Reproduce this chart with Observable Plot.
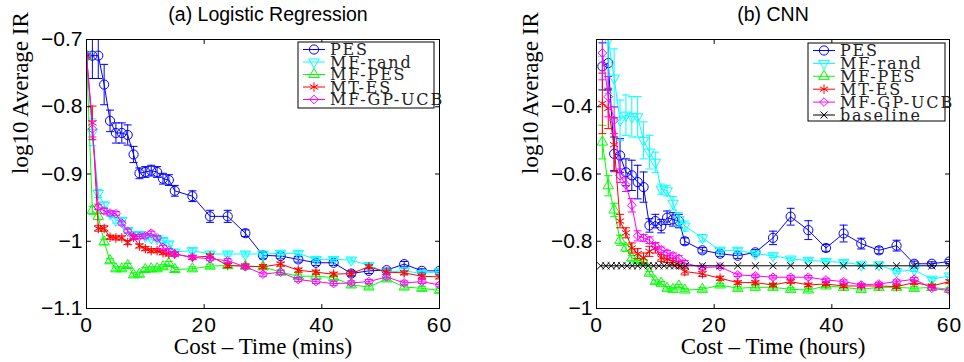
<!DOCTYPE html>
<html><head><meta charset="utf-8">
<script src="https://cdn.jsdelivr.net/npm/d3@7"></script>
<script src="https://cdn.jsdelivr.net/npm/@observablehq/plot@0.6"></script>
<style>
body{margin:0;background:#fff;}
#wrap{display:flex;width:964px;height:362px;}
</style></head><body><div id="wrap"></div>
<script>
// ---------- data: (a) Logistic Regression ----------
const xLR = [0,1,2,3,4,5,6,7,8,9,10,11,12,13,14,15,18,21,24,27,30,33,36,39,42,45,48,51,54,57,60];
const lrPES = [-0.724,-0.724,-0.724,-0.767,-0.821,-0.839,-0.839,-0.842,-0.871,-0.899,-0.897,-0.895,-0.897,-0.907,-0.909,-0.925,-0.933,-0.963,-0.963,-0.988,-1.021,-1.022,-1.027,-1.032,-1.032,-1.048,-1.044,-1.043,-1.034,-1.044,-1.044];
const lrPESErr = [0.034,0.034,0.034,0.03,0.016,0.015,0.015,0.015,0.012,0.008,0.008,0.008,0.008,0.008,0.008,0.008,0.008,0.009,0.009,0.005,0.005,0.004,0.004,0.004,0.004,0.004,0.004,0.003,0.004,0.003,0.003];
const lrRand = [-0.724,-0.838,-0.929,-0.946,-0.959,-0.969,-0.969,-0.984,-0.99,-0.99,-0.993,-0.995,-0.996,-0.999,-1.004,-1.016,-1.014,-1.019,-1.019,-1.019,-1.019,-1.018,-1.018,-1.027,-1.027,-1.028,-1.036,-1.046,-1.044,-1.048,-1.045];
const lrRandErr = [0.003,0.02,0.006,0.004,0.004,0.004,0.003,0.003,0.003,0.003,0.003,0.003,0.003,0.003,0.003,0.003,0.003,0.003,0.003,0.003,0.003,0.003,0.003,0.003,0.003,0.003,0.003,0.003,0.003,0.003,0.003];
const lrMFPES = [-0.724,-0.954,-0.963,-1.001,-1.029,-1.041,-1.041,-1.036,-1.05,-1.049,-1.042,-1.041,-1.041,-1.038,-1.033,-1.042,-1.041,-1.037,-1.036,-1.037,-1.038,-1.046,-1.052,-1.052,-1.054,-1.065,-1.068,-1.056,-1.068,-1.07,-1.073];
const lrMFPESErr = [0.003,0.006,0.005,0.004,0.003,0.003,0.003,0.003,0.003,0.003,0.003,0.003,0.003,0.003,0.003,0.003,0.003,0.003,0.003,0.003,0.003,0.003,0.003,0.003,0.003,0.003,0.003,0.003,0.003,0.003,0.003];
const lrMTES = [-0.724,-0.824,-0.981,-0.981,-0.994,-0.995,-0.995,-1.002,-0.994,-1.007,-1.011,-1.014,-1.014,-1.017,-1.019,-1.019,-1.024,-1.022,-1.036,-1.037,-1.038,-1.034,-1.043,-1.046,-1.049,-1.048,-1.038,-1.046,-1.047,-1.052,-1.053];
const lrMTESErr = [0.003,0.025,0.004,0.004,0.003,0.003,0.003,0.003,0.003,0.003,0.003,0.003,0.003,0.003,0.003,0.003,0.003,0.003,0.003,0.003,0.003,0.003,0.003,0.003,0.003,0.003,0.003,0.003,0.003,0.003,0.003];
const lrUCB = [-0.724,-0.833,-0.949,-0.955,-0.958,-0.959,-0.973,-0.985,-0.993,-0.993,-0.992,-0.988,-0.995,-1.009,-1.014,-1.019,-1.024,-1.026,-1.029,-1.038,-1.049,-1.046,-1.057,-1.06,-1.063,-1.062,-1.06,-1.053,-1.062,-1.06,-1.065];
const lrUCBErr = [0.003,0.012,0.004,0.004,0.003,0.003,0.003,0.003,0.003,0.003,0.003,0.003,0.003,0.003,0.003,0.003,0.003,0.003,0.003,0.003,0.003,0.003,0.003,0.003,0.003,0.003,0.003,0.003,0.003,0.003,0.003];

// ---------- data: (b) CNN ----------
const xCNN = [1,2,3,4,5,6,7,8,9,10,11,12,13,14,15,18,21,24,27,30,33,36,39,42,45,48,51,54,57,60];
const cnnPES = [-0.28,-0.27,-0.54,-0.545,-0.595,-0.604,-0.624,-0.639,-0.753,-0.74,-0.755,-0.73,-0.735,-0.74,-0.8,-0.827,-0.837,-0.843,-0.833,-0.79,-0.727,-0.767,-0.82,-0.777,-0.807,-0.827,-0.813,-0.867,-0.867,-0.86];
const cnnPESErr = [0.07,0.08,0.05,0.05,0.04,0.045,0.05,0.045,0.02,0.02,0.02,0.02,0.02,0.02,0.01,0.008,0.008,0.008,0.008,0.02,0.025,0.028,0.01,0.025,0.016,0.01,0.016,0.008,0.006,0.006];
const cnnRand = [-0.1,-0.2,-0.315,-0.44,-0.425,-0.43,-0.43,-0.5,-0.535,-0.565,-0.645,-0.65,-0.687,-0.735,-0.755,-0.79,-0.827,-0.827,-0.837,-0.843,-0.853,-0.857,-0.86,-0.863,-0.87,-0.87,-0.89,-0.885,-0.913,-0.903];
const cnnRandErr = [0.15,0.16,0.087,0.06,0.06,0.06,0.06,0.055,0.05,0.03,0.015,0.015,0.02,0.02,0.015,0.01,0.006,0.006,0.005,0.005,0.005,0.005,0.005,0.005,0.005,0.005,0.005,0.005,0.005,0.005];
const cnnMFPES = [-0.505,-0.635,-0.707,-0.797,-0.82,-0.85,-0.857,-0.86,-0.895,-0.92,-0.925,-0.94,-0.943,-0.933,-0.945,-0.943,-0.93,-0.94,-0.937,-0.937,-0.943,-0.945,-0.933,-0.937,-0.943,-0.937,-0.937,-0.94,-0.937,-0.943];
const cnnMFPESErr = [0.05,0.03,0.02,0.015,0.01,0.008,0.006,0.005,0.005,0.005,0.005,0.005,0.005,0.005,0.005,0.005,0.005,0.005,0.005,0.005,0.005,0.005,0.005,0.005,0.005,0.005,0.005,0.005,0.005,0.005];
const cnnMTES = [-0.39,-0.405,-0.513,-0.74,-0.775,-0.82,-0.837,-0.85,-0.83,-0.82,-0.85,-0.853,-0.86,-0.87,-0.89,-0.897,-0.91,-0.923,-0.923,-0.93,-0.92,-0.93,-0.927,-0.933,-0.933,-0.933,-0.935,-0.923,-0.933,-0.92];
const cnnMTESErr = [0.09,0.06,0.08,0.02,0.015,0.015,0.015,0.015,0.015,0.015,0.01,0.01,0.01,0.01,0.01,0.008,0.006,0.005,0.005,0.005,0.005,0.005,0.005,0.005,0.005,0.005,0.005,0.005,0.005,0.005];
const cnnUCB = [-0.24,-0.37,-0.44,-0.605,-0.632,-0.693,-0.784,-0.79,-0.797,-0.814,-0.825,-0.835,-0.843,-0.851,-0.865,-0.878,-0.876,-0.9,-0.903,-0.907,-0.907,-0.907,-0.915,-0.92,-0.93,-0.927,-0.92,-0.913,-0.94,-0.947];
const cnnUCBErr = [0.08,0.06,0.04,0.02,0.02,0.02,0.015,0.01,0.01,0.01,0.008,0.008,0.008,0.008,0.008,0.005,0.005,0.005,0.005,0.005,0.005,0.005,0.005,0.005,0.005,0.005,0.005,0.005,0.005,0.005];
const xBase = [0.7,1.6,2.5,3.4,4.3,5.2,6.1,7.0,7.9,8.8,9.7,10.6,11.5,12.4,13.3,14.2,15.1,18,21,24,27,30,33,36,39,42,45,48,51,54,57,60];
const cnnBase = [-0.873,-0.873,-0.873,-0.873,-0.873,-0.873,-0.873,-0.873,-0.873,-0.873,-0.873,-0.873,-0.873,-0.873,-0.873,-0.873,-0.873,-0.873,-0.873,-0.873,-0.873,-0.873,-0.873,-0.873,-0.873,-0.873,-0.873,-0.873,-0.873,-0.873,-0.873,-0.873];

// ---------- ticks / labels ----------
const xTicks = [0, 20, 40, 60];
const lrYTicks = [-1.1, -1, -0.9, -0.8, -0.7];
const cnnYTicks = [-1, -0.8, -0.6, -0.4];
const lrTitle = "(a) Logistic Regression";
const cnnTitle = "(b) CNN";
const lrXLabel = "Cost \u2013 Time (mins)";
const cnnXLabel = "Cost \u2013 Time (hours)";
const yLabel = "log10 Average IR";

// ---------- styles ----------
const styles = {
  "PES":       {color: "#0000ff", symbol: "circle",   r: 4.6, rotate: 0},
  "MF-rand":   {color: "#00ffff", symbol: "triangle", r: 3.9, rotate: 180},
  "MF-PES":    {color: "#00ff00", symbol: "triangle", r: 3.9, rotate: 0},
  "MT-ES":     {color: "#ff0000", symbol: "asterisk", r: 4.5, rotate: 0},
  "MF-GP-UCB": {color: "#ff00ff", symbol: "diamond2", r: 3.9, rotate: 0},
  "baseline":  {color: "#000000", symbol: "times",    r: 3.3, rotate: 0}
};
const d3Symbols = {circle: d3.symbolCircle, triangle: d3.symbolTriangle, asterisk: d3.symbolAsterisk, diamond2: d3.symbolDiamond2, times: d3.symbolTimes};
const capSymbol = {draw(ctx) { ctx.moveTo(-4, 0); ctx.lineTo(4, 0); }};
const tickShape = {draw(ctx, l) { ctx.moveTo(0, 0); ctx.lineTo(0, -l); }};
const sans = "'Liberation Sans', Arial, Helvetica, sans-serif";
const serif = "'Liberation Serif', 'Times New Roman', serif";
const legendSerif = "'DejaVu Serif', 'Liberation Serif', serif";
const fmt = d => (d < 0 ? "\u2212" : "") + Math.abs(d);

function panel(cfg) {
  const marks = [];
  for (const s of cfg.series) {
    const st = styles[s.name];
    const data = s.values.map((v, i) => ({x: s.x[i], y: v, e: s.err ? s.err[i] : 0}));
    marks.push(Plot.line(data, {x: "x", y: "y", stroke: st.color, strokeWidth: 1, clip: true}));
    if (s.err) {
      marks.push(Plot.ruleX(data, {x: "x", y1: d => d.y - d.e, y2: d => d.y + d.e, stroke: st.color, strokeWidth: 1, clip: true}));
      marks.push(Plot.dot(data, {x: "x", y: d => d.y - d.e, symbol: capSymbol, r: 3, stroke: st.color, fill: "none", strokeWidth: 1, clip: true}));
      marks.push(Plot.dot(data, {x: "x", y: d => d.y + d.e, symbol: capSymbol, r: 3, stroke: st.color, fill: "none", strokeWidth: 1, clip: true}));
    }
    marks.push(Plot.dot(data, {x: "x", y: "y", symbol: st.symbol, r: st.r, rotate: st.rotate, stroke: st.color, fill: "none", strokeWidth: 1, clip: true}));
  }
  const tk = {stroke: "black", strokeWidth: 1, length: 4, anchor: "start", shape: tickShape};
  marks.push(
    Plot.frame({stroke: "black", strokeWidth: 1}),
    Plot.vector(cfg.yTicks, {...tk, y: d => d, frameAnchor: "left", rotate: 90}),
    Plot.vector(cfg.yTicks, {...tk, y: d => d, frameAnchor: "right", rotate: -90}),
    Plot.vector(xTicks, {...tk, x: d => d, frameAnchor: "bottom", rotate: 0}),
    Plot.vector(xTicks, {...tk, x: d => d, frameAnchor: "top", rotate: 180}),
    Plot.axisY({ticks: cfg.yTicks, tickSize: 0, tickPadding: 4, tickFormat: fmt, label: null, fontSize: 21, fontFamily: sans}),
    Plot.axisX({ticks: xTicks, tickSize: 0, tickPadding: 9, tickFormat: d => String(d), label: null, fontSize: 21, fontFamily: sans}),
    Plot.text([cfg.title], {text: d => d, frameAnchor: "top", dx: cfg.titleDx, dy: -25, lineAnchor: "middle", fontSize: 19.5, fontFamily: sans, fill: "black", ariaLabel: "title"}),
    Plot.text([cfg.xLabel], {text: d => d, frameAnchor: "bottom", dy: 38, lineAnchor: "middle", fontSize: 23, fontFamily: serif, fill: "black", ariaLabel: "xlabel"}),
    Plot.text([yLabel], {text: d => d, frameAnchor: "left", dx: -66, rotate: -90, lineAnchor: "middle", fontSize: 23, fontFamily: serif, fill: "black", ariaLabel: "ylabel"})
  );
  const svg = Plot.plot({
    width: cfg.width, height: 362,
    marginLeft: cfg.marginLeft, marginRight: cfg.marginRight, marginTop: 39, marginBottom: 54,
    x: {domain: [0, 60], axis: null},
    y: {domain: cfg.yDomain, axis: null},
    style: {background: "white", color: "black", overflow: "visible"},
    marks
  });
  const s = d3.select(svg);
  s.selectAll('g[aria-label="title"] text').attr("letter-spacing", "1.3px");
  s.selectAll('g[aria-label="xlabel"] text').attr("letter-spacing", "1.1px");
  s.selectAll('g[aria-label="ylabel"] text').attr("letter-spacing", "0.4px");
  s.selectAll('g[aria-label="x-axis tick label"] text').attr("letter-spacing", "1px");
  // legend
  const b = cfg.legend;
  const bx = cfg.width - cfg.marginRight - b.inset - b.w;
  const by = 39 + b.top;
  const g = s.append("g").attr("text-anchor", "start");
  g.append("rect").attr("x", bx).attr("y", by).attr("width", b.w).attr("height", b.h)
    .attr("fill", "white").attr("stroke", "black").attr("stroke-width", 1);
  cfg.series.forEach((ser, i) => {
    const st = styles[ser.name];
    const cy = by + 7.5 + i * b.step;
    g.append("line").attr("x1", bx + 5).attr("x2", bx + 27).attr("y1", cy).attr("y2", cy)
      .attr("stroke", st.color).attr("stroke-width", 1);
    g.append("path").attr("transform", `translate(${bx + 16},${cy}) rotate(${st.rotate})`)
      .attr("d", d3.symbol(d3Symbols[st.symbol], Math.PI * st.r * st.r)())
      .attr("fill", "none").attr("stroke", st.color).attr("stroke-width", 1);
    g.append("text").attr("x", bx + 32).attr("y", cy + 5.6).attr("text-anchor", "start").text(ser.name)
      .attr("font-family", legendSerif).attr("font-size", 16).attr("letter-spacing", "1.8px").attr("fill", "#222");
  });
  return svg;
}

const wrap = document.getElementById("wrap");
wrap.appendChild(panel({
  width: 480, marginLeft: 86, marginRight: 41, titleDx: 5,
  yDomain: [-1.1, -0.7], yTicks: lrYTicks, title: lrTitle, xLabel: lrXLabel,
  legend: {w: 136, h: 66, inset: 5, top: 3, step: 12.5},
  series: [
    {name: "PES", x: xLR, values: lrPES, err: lrPESErr},
    {name: "MF-rand", x: xLR, values: lrRand, err: lrRandErr},
    {name: "MF-PES", x: xLR, values: lrMFPES, err: lrMFPESErr},
    {name: "MT-ES", x: xLR, values: lrMTES, err: lrMTESErr},
    {name: "MF-GP-UCB", x: xLR, values: lrUCB, err: lrUCBErr}
  ]
}));
wrap.appendChild(panel({
  width: 484, marginLeft: 116, marginRight: 15, titleDx: 0,
  yDomain: [-1, -0.2], yTicks: cnnYTicks, title: cnnTitle, xLabel: cnnXLabel,
  legend: {w: 137, h: 78, inset: 4, top: 4, step: 12.9},
  series: [
    {name: "PES", x: xCNN, values: cnnPES, err: cnnPESErr},
    {name: "MF-rand", x: xCNN, values: cnnRand, err: cnnRandErr},
    {name: "MF-PES", x: xCNN, values: cnnMFPES, err: cnnMFPESErr},
    {name: "MT-ES", x: xCNN, values: cnnMTES, err: cnnMTESErr},
    {name: "MF-GP-UCB", x: xCNN, values: cnnUCB, err: cnnUCBErr},
    {name: "baseline", x: xBase, values: cnnBase}
  ]
}));
</script></body></html>
